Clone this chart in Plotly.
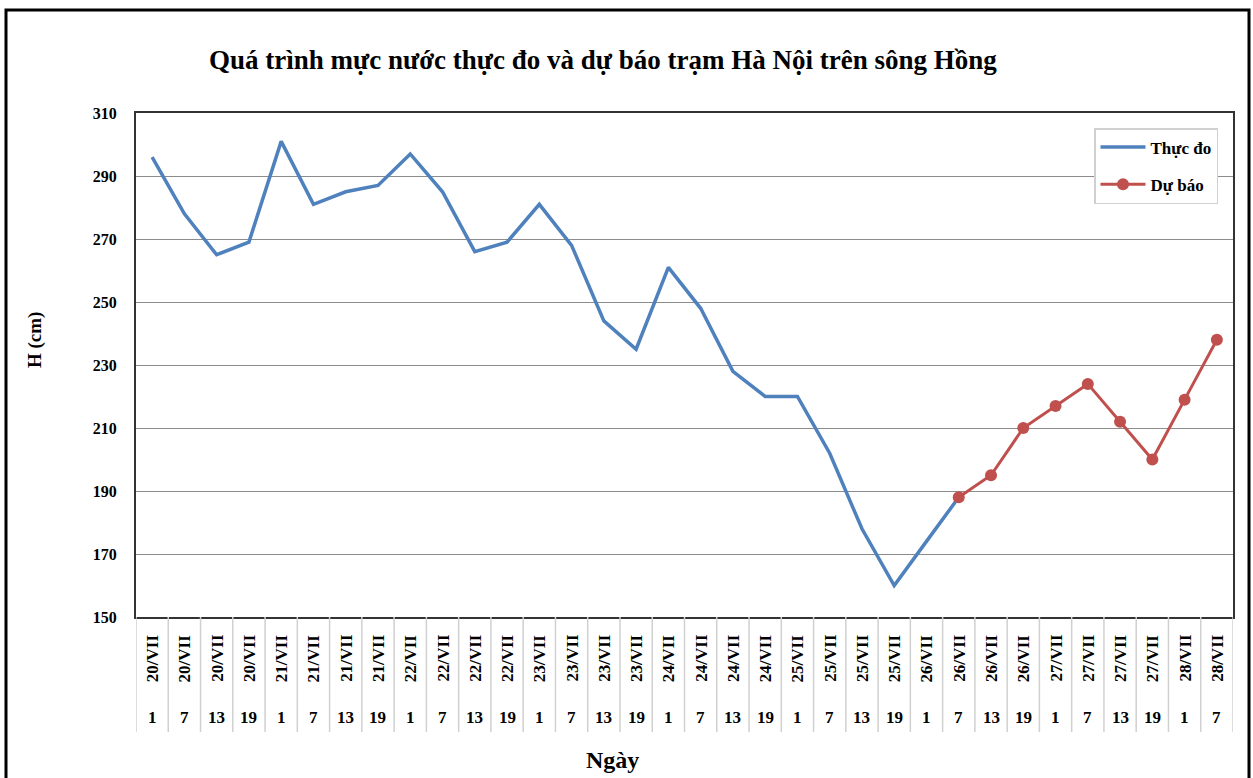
import plotly.graph_objects as go

# ---- data ----
dates = ["20/VII"] * 4 + ["21/VII"] * 4 + ["22/VII"] * 4 + ["23/VII"] * 4 + \
        ["24/VII"] * 4 + ["25/VII"] * 4 + ["26/VII"] * 4 + ["27/VII"] * 4 + ["28/VII"] * 2
hours = ["1", "7", "13", "19"] * 8 + ["1", "7"]
categories = [f"{d} {h}" for d, h in zip(dates, hours)]

observed = [296, 278, 265, 269, 301, 281, 285, 287, 297, 285, 266, 269,
            281, 268, 244, 235, 261, 248, 228, 220, 220, 202, 178, 160, 174, 188]
forecast = [188, 195, 210, 217, 224, 212, 200, 219, 238]
forecast_start = 25  # index of 26/VII 7

y_ticks = [150, 170, 190, 210, 230, 250, 270, 290, 310]

title_text = "Quá trình mực nước thực đo và dự báo trạm Hà Nội trên sông Hồng"

FONT = "Liberation Serif"
W, H = 1253, 778
L, R, T, B = 136, 20, 113, 161
PW, PH = W - L - R, H - T - B

def px_x(p):
    return (p - L) / PW

def px_y(p):
    return (H - B - p) / PH

fig = go.Figure()
fig.add_trace(go.Scatter(
    x=categories[:len(observed)], y=observed, mode="lines", name="Thực đo",
    line=dict(color="#4F81BD", width=3.5), legendgroup="a"))
fig.add_trace(go.Scatter(
    x=categories[forecast_start:forecast_start + len(forecast)], y=forecast,
    mode="lines+markers", name="Dự báo",
    line=dict(color="#C0504D", width=3), marker=dict(color="#C0504D", size=12),
    legendgroup="b"))

def ann(x, y, text, size, angle=0, xref="paper"):
    return dict(x=x, xref=xref, y=y, yref="paper", text=text, textangle=angle,
                showarrow=False, xanchor="center", yanchor="middle",
                font=dict(family=FONT, size=size, color="black", weight="bold"))

annotations = []
shapes = []
for i, (d, h) in enumerate(zip(dates, hours)):
    annotations.append(ann(categories[i], px_y(658), d, 17, -90, xref="x"))
    annotations.append(ann(categories[i], px_y(717), h, 17, 0, xref="x"))
for i in range(len(categories) + 1):
    shapes.append(dict(type="line", xref="x", x0=i - 0.5, x1=i - 0.5,
                       yref="paper", y0=0, y1=px_y(732),
                       line=dict(color="#d0d0d0", width=1.5)))

annotations.append(ann(px_x(612), px_y(760), "Ngày", 24))
annotations.append(ann(px_x(35), px_y(340), "H (cm)", 19, -90))
annotations.append(ann(px_x(603), px_y(60), title_text, 27))

# outer frame
shapes.append(dict(type="rect", xref="paper", yref="paper",
                   x0=px_x(6), x1=px_x(1249), y0=px_y(795), y1=px_y(10),
                   line=dict(color="black", width=3), layer="above"))

fig.update_layout(
    width=W, height=H,
    margin=dict(l=L, r=R, t=T, b=B),
    paper_bgcolor="white", plot_bgcolor="white",
    showlegend=True,
    legend=dict(x=px_x(1218), xanchor="right", y=px_y(128), yanchor="top",
                bgcolor="white", bordercolor="#d0d0d0", borderwidth=1.5,
                font=dict(family=FONT, size=17, color="black", weight="bold"),
                tracegroupgap=12, traceorder="grouped", itemwidth=45),
    annotations=annotations, shapes=shapes,
    xaxis=dict(type="category", categoryorder="array", categoryarray=categories,
               range=[-0.5, len(categories) - 0.5], showticklabels=False,
               showgrid=False, showline=True, linecolor="#333", linewidth=2,
               mirror=True, ticks="", zeroline=False),
    yaxis=dict(range=[150, 310], tickvals=y_ticks, showgrid=True,
               gridcolor="#8c8c8c", gridwidth=1, showline=True, linecolor="#333",
               linewidth=2, mirror=True, ticks="", ticklabelstandoff=14,
               tickfont=dict(family=FONT, size=16, color="black", weight="bold"),
               zeroline=False),
)

fig.write_html("out.html", config={"displayModeBar": False},
               post_script="document.body.style.margin='0';")
